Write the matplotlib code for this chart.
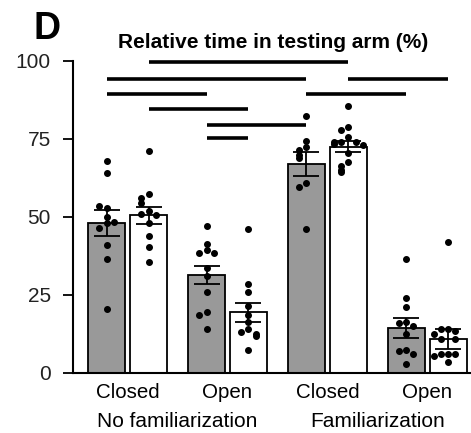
import matplotlib
matplotlib.use('Agg')
import matplotlib.pyplot as plt
import numpy as np

plt.rcParams['font.family'] = ['Liberation Sans', 'DejaVu Sans']

# Data
conditions = ['Closed', 'Open', 'Closed', 'Open']
groups = ['No familiarization', 'Familiarization']
means = [48.0, 50.5, 31.4, 19.5, 67.0, 72.5, 14.5, 11.0]
sems = [4.2, 2.6, 2.9, 3.0, 3.7, 1.7, 3.2, 3.2]
points = [
    [68, 64, 53, 53.5, 50, 48, 48.5, 46.5, 41, 36.5, 20.5],
    [71, 57.5, 56, 54.5, 52, 51, 50.5, 48, 44, 40.5, 35.5],
    [47, 41.5, 39.5, 38.5, 38.5, 33.5, 31, 26, 19.5, 18.5, 14],
    [46, 28.5, 26, 21.5, 18.5, 16.5, 14, 13, 12.5, 12, 7.5],
    [82.5, 74.5, 72.5, 71.5, 70, 69, 61, 59.5, 46],
    [85.5, 79, 78, 75.5, 74, 74, 74, 73.5, 73, 70.5, 67.5, 66.5, 65, 64.5],
    [36.5, 24, 21, 16.5, 16, 15, 12.5, 7.5, 7, 6, 3],
    [42, 14, 14, 13.5, 12.5, 11, 11, 6, 6, 6, 5.5, 3.5],
]
# significance lines: (first bar, second bar, height)
sig_lines = [(1, 5, 99.7), (0, 4, 94.2), (5, 7, 94.2), (0, 2, 89.4),
             (4, 6, 89.4), (1, 3, 84.6), (2, 4, 79.5), (2, 3, 75.3)]

pair_gap = 2.38
xpos = [p * pair_gap + k for p in range(4) for k in (0, 1)]
colors = ['#999999', 'white'] * 4


def swarm_offsets(vals, thresh=1.8, step=0.17):
    """Spread points that sit close together sideways."""
    placed = []
    offs = []
    for v in vals:
        n = sum(1 for u in placed if abs(u - v) < thresh)
        side = -1 if n % 2 else 1
        offs.append(side * ((n + 1) // 2) * step)
        placed.append(v)
    return offs


fig = plt.figure(figsize=(4.71, 4.33), dpi=100)
ax = fig.add_axes([73 / 471, 60 / 433, 398 / 471, 312 / 433])

ax.bar(xpos, means, width=0.88, color=colors, edgecolor='black',
       linewidth=1.3, zorder=1)
ax.errorbar(xpos, means, yerr=sems, fmt='none', ecolor='black',
            elinewidth=1.3, capsize=9.5, capthick=1.3, zorder=3)
for x, vals in zip(xpos, points):
    offs = swarm_offsets(vals)
    ax.plot(np.array(offs) + x, vals, 'o', color='black', markersize=4,
            zorder=4, clip_on=False)

for a, b, h in sig_lines:
    ax.plot([xpos[a], xpos[b]], [h, h], color='black', linewidth=2.6,
            solid_capstyle='butt', clip_on=False, zorder=5)

ax.set_xlim(-0.8, 8.68)
ax.set_ylim(0, 100)
ax.set_yticks([0, 25, 50, 75, 100])
ax.tick_params(axis='y', labelsize=15, length=7, width=1.3, pad=9,
               labelcolor='#222222')
ax.set_xticks([])
for s in ('top', 'right'):
    ax.spines[s].set_visible(False)
ax.spines['left'].set_linewidth(1.5)
ax.spines['bottom'].set_linewidth(1.5)

for p, name in enumerate(conditions):
    ax.text(p * pair_gap + 0.5, -3.2, name, ha='center', va='top',
            fontsize=14.8)
for g, name in enumerate(groups):
    ax.text(g * 2 * pair_gap + 0.5 + pair_gap / 2, -12.5, name, ha='center',
            va='top', fontsize=15)

fig.text(273 / 471, 1 - 43 / 433, 'Relative time in testing arm (%)',
         ha='center', va='center', fontsize=15, fontweight='bold')
fig.text(47 / 471, 1 - 29 / 433, 'D', ha='center', va='center',
         fontsize=27, fontweight='bold')

fig.savefig('out.png', dpi=100)
